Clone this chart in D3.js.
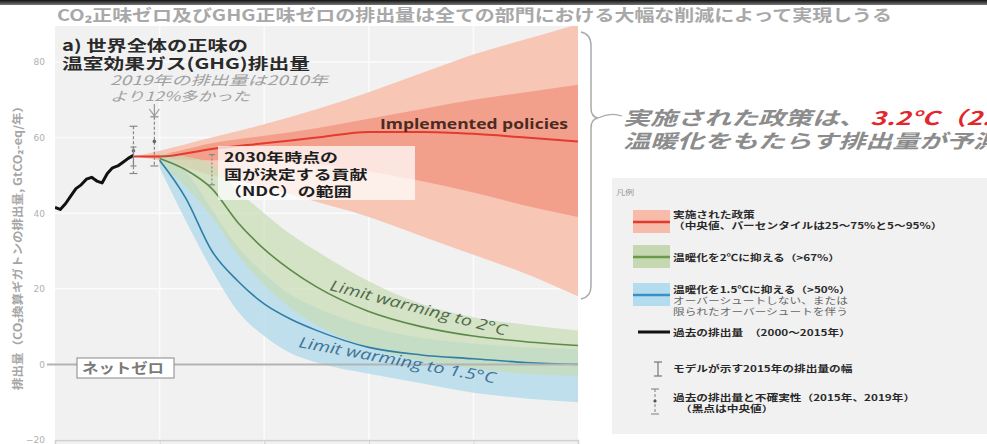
<!DOCTYPE html>
<html><head><meta charset="utf-8">
<script src="https://cdn.jsdelivr.net/npm/d3@7"></script>
<style>html,body{margin:0;padding:0;background:#fff;overflow:hidden}</style>
</head><body>
<svg id="c" width="987" height="444"></svg>
<script>
// ---------- DATA ----------
const histYears  = [2000,2001,2002,2003,2004,2005,2006,2007,2008,2009,2010,2011,2012,2013,2014,2015];
const histValues = [41.5,41.0,42.5,44.5,46.5,47.5,49.0,49.5,48.5,48.0,50.5,52.0,52.5,53.5,54.5,55.3];

const policyYears  = [2015,2020,2030,2040,2050,2060,2070,2080,2090,2100];
const policyMedian = [55.0,55.0,57.0,58.5,60.0,61.5,61.5,61.0,60.0,59.0];
const policyP25    = [55.0,54.5,54.0,54.0,53.0,51.0,48.5,45.5,42.0,39.0];
const policyP75    = [55.0,55.5,58.5,60.5,62.5,65.0,67.5,70.0,72.0,74.0];
const policyP5     = [55.0,54.0,50.0,47.0,43.0,39.0,34.0,29.0,24.0,18.0];
const policyP95    = [55.0,56.5,60.0,63.5,67.5,72.0,77.0,82.0,86.0,90.0];

const pathYears   = [2020,2025,2030,2035,2040,2045,2050,2060,2070,2080,2090,2100];
const c2Median    = [54.5,51.5,46.5,37.5,30.5,25.0,20.5,14.0,10.0,7.5,6.0,5.0];
const c2Low       = [53.0,47.0,39.0,29.0,21.0,15.0,10.5,4.5,1.0,-1.0,-2.5,-3.0];
const c2High      = [56.0,55.0,53.0,46.0,40.0,34.5,30.0,22.0,16.0,12.5,10.5,9.0];
const c15Median   = [54.0,44.0,30.0,22.0,16.0,12.0,9.0,4.5,2.5,1.5,0.5,0.0];
const c15Low      = [52.0,38.0,25.0,14.0,7.5,3.0,0.5,-2.5,-5.0,-7.5,-9.0,-10.0];
const c15High     = [56.0,51.0,41.0,31.0,24.0,18.5,15.0,10.0,7.0,5.5,4.5,4.0];

const uncYears  = [2015,2019];
const uncMedian = [56.5,59.0];
const uncLow    = [50.5,52.5];
const uncHigh   = [63.0,65.5];
const modelRangeYear = 2015, modelRangeLow = 52.5, modelRangeHigh = 57.5;
const ndcYear = 2030, ndcLow = 47.5, ndcHigh = 55.5;

const yTicks = [-20,0,20,40,60,80];
const xTicks = [2000,2020,2040,2060,2080,2100];

const chartTitle = "CO₂正味ゼロ及びGHG正味ゼロの排出量は全ての部門における大幅な削減によって実現しうる";
const panelTitle = ["a) 世界全体の正味の","温室効果ガス(GHG)排出量"];
const yAxisTitle = "排出量（CO₂換算ギガトンの排出量, GtCO₂-eq/年）";
const noteLines = ["2019年の排出量は2010年","より12%多かった"];
const ndcLines = ["2030年時点の","国が決定する貢献","（NDC）の範囲"];
const calloutGray = "実施された政策は、";
const calloutRed = "3.2°C（2.2～3.5°C）の";
const calloutLine2 = "温暖化をもたらす排出量が予測される";
const legendLabels = [
  ["実施された政策","（中央値、パーセンタイルは25～75%と5～95%）"],
  ["温暖化を2℃に抑える（>67%）"],
  ["温暖化を1.5℃に抑える（>50%）","オーバーシュートしない、または","限られたオーバーシュートを伴う"],
  ["過去の排出量　（2000～2015年）"],
  ["モデルが示す2015年の排出量の幅"],
  ["過去の排出量と不確実性（2015年、2019年）","（黒点は中央値）"]
];

// ---------- DRAW ----------
const JP = "'Noto Sans CJK JP','Noto Sans',sans-serif";
const svg = d3.select("#c");
const x = d3.scaleLinear().domain([2000,2100]).range([55,578]);
const y = d3.scaleLinear().domain([-20,80]).range([440,62]);

function T(g, px, py, s, o = {}) {
  const sx = o.sx || 1;
  const t = g.append("text")
    .attr("transform", `translate(${px},${py})${o.rot ? ` rotate(${o.rot})` : ""} scale(${sx},1)`)
    .attr("font-family", o.font || JP).attr("font-size", o.size || 10)
    .attr("font-weight", o.weight || "normal").attr("font-style", o.italic ? "italic" : "normal")
    .attr("fill", o.fill || "#333").attr("text-anchor", o.anchor || "start").text(s);
  if (o.len) t.attr("textLength", o.len / sx).attr("lengthAdjust", "spacingAndGlyphs");
  return t;
}

// top dark band
const grad = svg.append("defs").append("linearGradient").attr("id","topg").attr("x1",0).attr("x2",0).attr("y1",0).attr("y2",1);
grad.append("stop").attr("offset","0%").attr("stop-color","#111");
grad.append("stop").attr("offset","100%").attr("stop-color","#777");
svg.append("rect").attr("x",0).attr("y",0).attr("width",987).attr("height",5).attr("fill","url(#topg)");

// plot background
svg.append("rect").attr("x",55).attr("y",26).attr("width",523).attr("height",418).attr("fill","#f1f1f2");
svg.append("defs").append("clipPath").attr("id","pc").append("rect").attr("x",55).attr("y",26).attr("width",523).attr("height",418);

// grid
const grid = svg.append("g");
grid.selectAll("line.h").data(yTicks).join("line").attr("x1",55).attr("x2",578)
  .attr("y1",d=>y(d)).attr("y2",d=>y(d)).attr("stroke","#fbfbfb").attr("stroke-width",1.5);
grid.selectAll("line.v").data(xTicks.slice(1,-1)).join("line").attr("y1",26).attr("y2",444)
  .attr("x1",d=>x(d)).attr("x2",d=>x(d)).attr("stroke","#fbfbfb").attr("stroke-width",1.5);

// y axis
const yAx = svg.append("g").attr("transform","translate(55,0)")
  .call(d3.axisLeft(y).tickValues(yTicks).tickSize(0).tickPadding(10));
yAx.select(".domain").remove();
yAx.selectAll("text").attr("fill","#b0b0b0").attr("font-size",9).attr("font-family","'DejaVu Sans',sans-serif");
// x axis (tick marks only; labels lie below the visible area in the reference)
const xAx = svg.append("g").attr("transform",`translate(0,${y(-20)})`)
  .call(d3.axisBottom(x).tickValues(xTicks).tickSize(5).tickFormat(""));
xAx.select(".domain").attr("stroke","#d0d0d0").attr("stroke-width",1.5);
xAx.selectAll("line").attr("stroke","#d0d0d0");

// y axis title
T(svg, 22, 245, yAxisTitle, {rot:-90, size:11, fill:"#a5a5a5", weight:"bold", anchor:"middle", len:290});

const plot = svg.append("g").attr("clip-path","url(#pc)");
const areaGen = (yrs, lo, hi, curve) => d3.area()
  .x((d,i)=>x(yrs[i])).y0((d,i)=>y(lo[i])).y1((d,i)=>y(hi[i])).curve(curve)(yrs);
const lineGen = (yrs, v, curve) => d3.line().x((d,i)=>x(yrs[i])).y((d,i)=>y(v[i])).curve(curve)(yrs);
const sm = d3.curveMonotoneX;

// implemented policies
plot.append("path").attr("d",areaGen(policyYears,policyP5,policyP95,sm)).attr("fill","#f7c6b5");
plot.append("path").attr("d",areaGen(policyYears,policyP25,policyP75,sm)).attr("fill","#f2a08b");

// pathways
plot.append("path").attr("d",areaGen(pathYears,c15Low,c15High,sm)).attr("fill","#b6dcec").attr("opacity",0.85);
plot.append("path").attr("d",areaGen(pathYears,c2Low,c2High,sm)).attr("fill","#c7dbb3").attr("opacity",0.7);

// zero line
svg.append("line").attr("x1",47).attr("x2",578).attr("y1",y(0)).attr("y2",y(0)).attr("stroke","#b3b3b3").attr("stroke-width",2);

plot.append("path").attr("d",lineGen(pathYears,c15Median,sm)).attr("fill","none").attr("stroke","#2f7ea6").attr("stroke-width",1.6);
plot.append("path").attr("d",lineGen(pathYears,c2Median,sm)).attr("fill","none").attr("stroke","#5c8a48").attr("stroke-width",1.6);
plot.append("path").attr("d",lineGen(policyYears,policyMedian,sm)).attr("fill","none").attr("stroke","#e43a30").attr("stroke-width",2);

// history
plot.append("path").attr("d",lineGen(histYears,histValues,d3.curveLinear)).attr("fill","none")
  .attr("stroke","#111").attr("stroke-width",3).attr("stroke-linejoin","round");

// uncertainty markers
const um = svg.append("g").attr("stroke","#888").attr("stroke-width",1.2);
uncYears.forEach((yr,i)=>{
  const px = x(yr);
  um.append("line").attr("x1",px).attr("x2",px).attr("y1",y(uncHigh[i])).attr("y2",y(uncLow[i])).attr("stroke-dasharray","3,2");
  [uncHigh[i],uncLow[i]].forEach(v=>um.append("line").attr("x1",px-4).attr("x2",px+4).attr("y1",y(v)).attr("y2",y(v)));
  um.append("circle").attr("cx",px).attr("cy",y(uncMedian[i])).attr("r",1.8).attr("fill","#666").attr("stroke","none");
});
um.append("line").attr("x1",x(modelRangeYear)).attr("x2",x(modelRangeYear)).attr("y1",y(modelRangeHigh)).attr("y2",y(modelRangeLow));
[modelRangeHigh,modelRangeLow].forEach(v=>um.append("line").attr("x1",x(modelRangeYear)-3).attr("x2",x(modelRangeYear)+3).attr("y1",y(v)).attr("y2",y(v)));
um.append("line").attr("x1",x(ndcYear)).attr("x2",x(ndcYear)).attr("y1",y(ndcHigh)).attr("y2",y(ndcLow)).attr("stroke-dasharray","2,2");
[ndcHigh,ndcLow].forEach(v=>um.append("line").attr("x1",x(ndcYear)-3).attr("x2",x(ndcYear)+3).attr("y1",y(v)).attr("y2",y(v)));

// arrow from note
const ax = x(2019);
svg.append("path").attr("d",`M${ax},104 L${ax},118 M${ax-5},109 L${ax},116 L${ax+5},109`)
  .attr("fill","none").attr("stroke","#999").attr("stroke-width",1.2);

// NDC box
svg.append("rect").attr("x",218).attr("y",146).attr("width",197).attr("height",54).attr("fill","#fff").attr("opacity",0.72);
ndcLines.forEach((s,i)=>T(svg, 224, 162+i*17, s, {size:13, weight:"bold", fill:"#1e1e1e", sx:1.38}));

// series labels
T(svg, 568, 129, "Implemented policies", {font:"'Open Sans',sans-serif", size:15, weight:"bold", fill:"#4d2a22", anchor:"end", len:188});
T(svg, 329, 290, "Limit warming to 2°C", {font:"'Open Sans',sans-serif", size:15, italic:true, fill:"#4f6a4a", rot:14.5, len:182});
T(svg, 298, 347, "Limit warming to 1.5°C", {font:"'Open Sans',sans-serif", size:15, italic:true, fill:"#3f7494", rot:10.5, len:200});

// net zero label
svg.append("rect").attr("x",77).attr("y",358).attr("width",97).attr("height",20).attr("fill","#fff").attr("stroke","#888").attr("stroke-width",1);
T(svg, 82, 373, "ネットゼロ", {size:14, weight:"bold", fill:"#7a7a7a", len:82});

// titles
T(svg, 57, 21, chartTitle, {size:16, weight:"bold", fill:"#a8a8a8", len:835});
T(svg, 62, 51, panelTitle[0], {size:15, weight:"bold", fill:"#2a2a2a", len:186});
T(svg, 62, 69, panelTitle[1], {size:15, weight:"bold", fill:"#2a2a2a", len:248});
T(svg, 110, 85, noteLines[0], {size:13, italic:true, fill:"#a0a0a0", len:218});
T(svg, 110, 101, noteLines[1], {size:13, italic:true, fill:"#a0a0a0", len:140});

// bracket + callout
svg.append("path").attr("d","M581,32 Q591,34 591,46 L591,108 Q591,117 598,118 Q591,119 591,128 L591,286 Q591,297 581,299")
  .attr("fill","none").attr("stroke","#aaa").attr("stroke-width",1.5);
svg.append("path").attr("d","M598,118 Q610,112 622,116").attr("fill","none").attr("stroke","#aaa").attr("stroke-width",1.2);
T(svg, 623, 125, calloutGray, {size:19, italic:true, weight:"bold", fill:"#8c8c8c", sx:1.42});
T(svg, 870, 125, calloutRed, {size:19, italic:true, weight:"bold", fill:"#e3262b", sx:1.42});
T(svg, 623, 148, calloutLine2, {size:19, italic:true, weight:"bold", fill:"#8c8c8c", sx:1.42});

// legend
const lg = svg.append("g");
lg.append("rect").attr("x",612).attr("y",178).attr("width",375).attr("height",256).attr("fill","#f1f1f1");
T(lg, 616, 195, "凡例", {size:7, fill:"#999", sx:1.3});
const sw = [["#f6bba9","#e43a30",210],["#c6d8b1","#6a9a48",245],["#b4dcef","#3a8fc4",283]];
sw.forEach(([f,c,yy])=>{
  lg.append("rect").attr("x",633).attr("y",yy).attr("width",37).attr("height",23).attr("fill",f);
  lg.append("line").attr("x1",633).attr("x2",670).attr("y1",yy+12).attr("y2",yy+12).attr("stroke",c).attr("stroke-width",2.5);
});
const lo = {size:9, weight:"bold", fill:"#2a2a2a", sx:1.3};
T(lg, 673, 218, legendLabels[0][0], lo);
T(lg, 673, 229, legendLabels[0][1], lo);
T(lg, 673, 261, legendLabels[1][0], lo);
T(lg, 673, 293, legendLabels[2][0], lo);
T(lg, 673, 304, legendLabels[2][1], {size:9, fill:"#666", sx:1.3});
T(lg, 673, 315, legendLabels[2][2], {size:9, fill:"#666", sx:1.3});
lg.append("line").attr("x1",638).attr("x2",670).attr("y1",332).attr("y2",332).attr("stroke","#111").attr("stroke-width",3);
T(lg, 673, 336, legendLabels[3][0], lo);
const ib = lg.append("g").attr("stroke","#777").attr("stroke-width",1.2);
ib.append("line").attr("x1",658).attr("x2",658).attr("y1",362).attr("y2",376);
ib.append("line").attr("x1",654).attr("x2",662).attr("y1",362).attr("y2",362);
ib.append("line").attr("x1",654).attr("x2",662).attr("y1",376).attr("y2",376);
T(lg, 673, 372, legendLabels[4][0], lo);
const eb = lg.append("g").attr("stroke","#888").attr("stroke-width",1.1);
eb.append("line").attr("x1",655).attr("x2",655).attr("y1",389).attr("y2",414).attr("stroke-dasharray","3,2");
eb.append("line").attr("x1",651).attr("x2",659).attr("y1",389).attr("y2",389);
eb.append("line").attr("x1",651).attr("x2",659).attr("y1",414).attr("y2",414);
eb.append("circle").attr("cx",655).attr("cy",401).attr("r",1.6).attr("fill","#555").attr("stroke","none");
T(lg, 673, 401, legendLabels[5][0], lo);
T(lg, 680, 412, legendLabels[5][1], lo);
</script>
</body></html>
